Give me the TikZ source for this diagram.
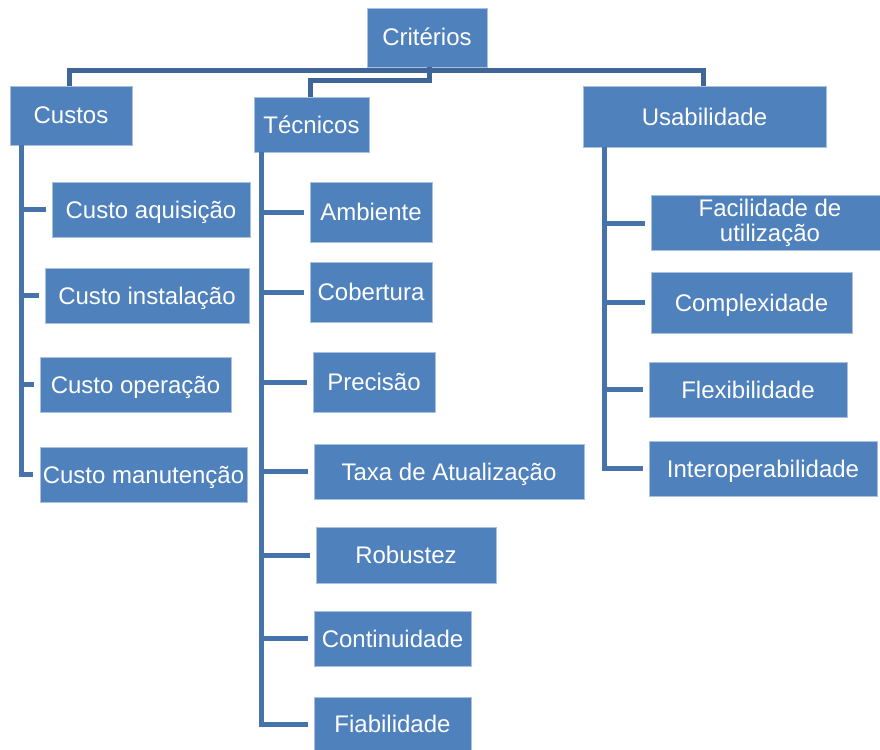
\documentclass[tikz,border=0pt]{standalone}
\usepackage{fontspec}
\setmainfont{Liberation Sans}
\definecolor{boxblue}{HTML}{4F81BD}
\definecolor{boxedge}{HTML}{A9C0DE}
\definecolor{trunkline}{HTML}{4673AA}
\definecolor{busline}{HTML}{3E6697}
\tikzset{
  crit/.style={rectangle, fill=boxblue, draw=boxedge, line width=0.7pt,
    text=white, font=\fontsize{24}{25}\selectfont, align=center,
    inner sep=0pt, minimum width=#1},
  crit/.default=120pt,
  oneline/.style={text height=18pt, text depth=1pt},
  link/.style={draw=trunkline, line width=5pt, line join=miter},
  buslink/.style={draw=busline, line width=5pt, line join=miter}
}
\begin{document}
\begin{tikzpicture}[x=1pt, y=-1pt]
\useasboundingbox (0,0) rectangle (880,749);
\clip (0,0) rectangle (880,749);

% top level
\node[crit=120pt, oneline, minimum height=59pt] (root) at (427,37.5) {Critérios};

% second level
\node[crit=122pt, oneline, minimum height=59pt] (custos) at (71,115.5) {Custos};
\node[crit=115pt, oneline, minimum height=55pt] (tec) at (311.5,124.5) {Técnicos};
\node[crit=243pt, oneline, minimum height=61pt] (usab) at (704.5,116.5) {Usabilidade};

% cost criteria
\node[crit=198pt, oneline, minimum height=55pt] (ca) at (151,209.5) {Custo aquisição};
\node[crit=204pt, oneline, minimum height=55pt] (ci) at (147,295.5) {Custo instalação};
\node[crit=191pt, oneline, minimum height=55pt] (co) at (135.5,384.5) {Custo operação};
\node[crit=207pt, oneline, minimum height=55pt] (cm) at (143.5,474.5) {Custo manutenção};

% technical criteria
\node[crit=122pt, oneline, minimum height=60pt] (amb) at (371,212) {Ambiente};
\node[crit=122pt, oneline, minimum height=60pt] (cob) at (371,292) {Cobertura};
\node[crit=122pt, oneline, minimum height=60pt] (pre) at (374,382) {Precisão};
\node[crit=270pt, oneline, minimum height=55pt] (taxa) at (449,471.5) {Taxa de Atualização};
\node[crit=180pt, oneline, minimum height=56pt] (rob) at (406,555) {Robustez};
\node[crit=157pt, oneline, minimum height=55pt] (cont) at (392.5,638.5) {Continuidade};
\node[crit=157pt, oneline, minimum height=54pt] (fia) at (392.5,724) {Fiabilidade};

% usability criteria
\node[crit=238pt, minimum height=55pt] (fac) at (770,223) {Facilidade de\\utilização};
\node[crit=201pt, oneline, minimum height=61pt] (comp) at (751.5,302.5) {Complexidade};
\node[crit=198pt, oneline, minimum height=55pt] (flex) at (748,389.5) {Flexibilidade};
\node[crit=228pt, oneline, minimum height=55pt] (inter) at (763,468.5) {Interoperabilidade};

% bus from the root
\coordinate (bus) at (429,71);
\coordinate (tbus) at (429,81);
\draw[buslink] (root.south -| bus) -- (bus) -| ([xshift=-2pt]custos.north);
\draw[buslink] (bus) -- (tbus) -| ([xshift=-1pt]tec.north);
\draw[buslink] ([xshift=-2.5pt]bus) -| ([xshift=-1pt]usab.north);

% trunks
\coordinate (ct) at ([xshift=12pt]custos.south west);
\coordinate (tt) at ([xshift=8pt]tec.south west);
\coordinate (ut) at ([xshift=22pt]usab.south west);

\draw[link] (ct) |- ([xshift=-7pt]cm.west);
\foreach \n in {ca,ci,co}
  \draw[link] (ct |- \n.west) -- ([xshift=-6pt]\n.west);

\draw[link] (tt) |- ([xshift=-6pt]fia.west);
\foreach \n in {amb,cob,pre,taxa,rob,cont}
  \draw[link] (tt |- \n.west) -- ([xshift=-6pt]\n.west);

\draw[link] (ut) |- ([xshift=-6pt]inter.west);
\foreach \n in {fac,comp,flex}
  \draw[link] (ut |- \n.west) -- ([xshift=-6pt]\n.west);
\end{tikzpicture}
\end{document}
